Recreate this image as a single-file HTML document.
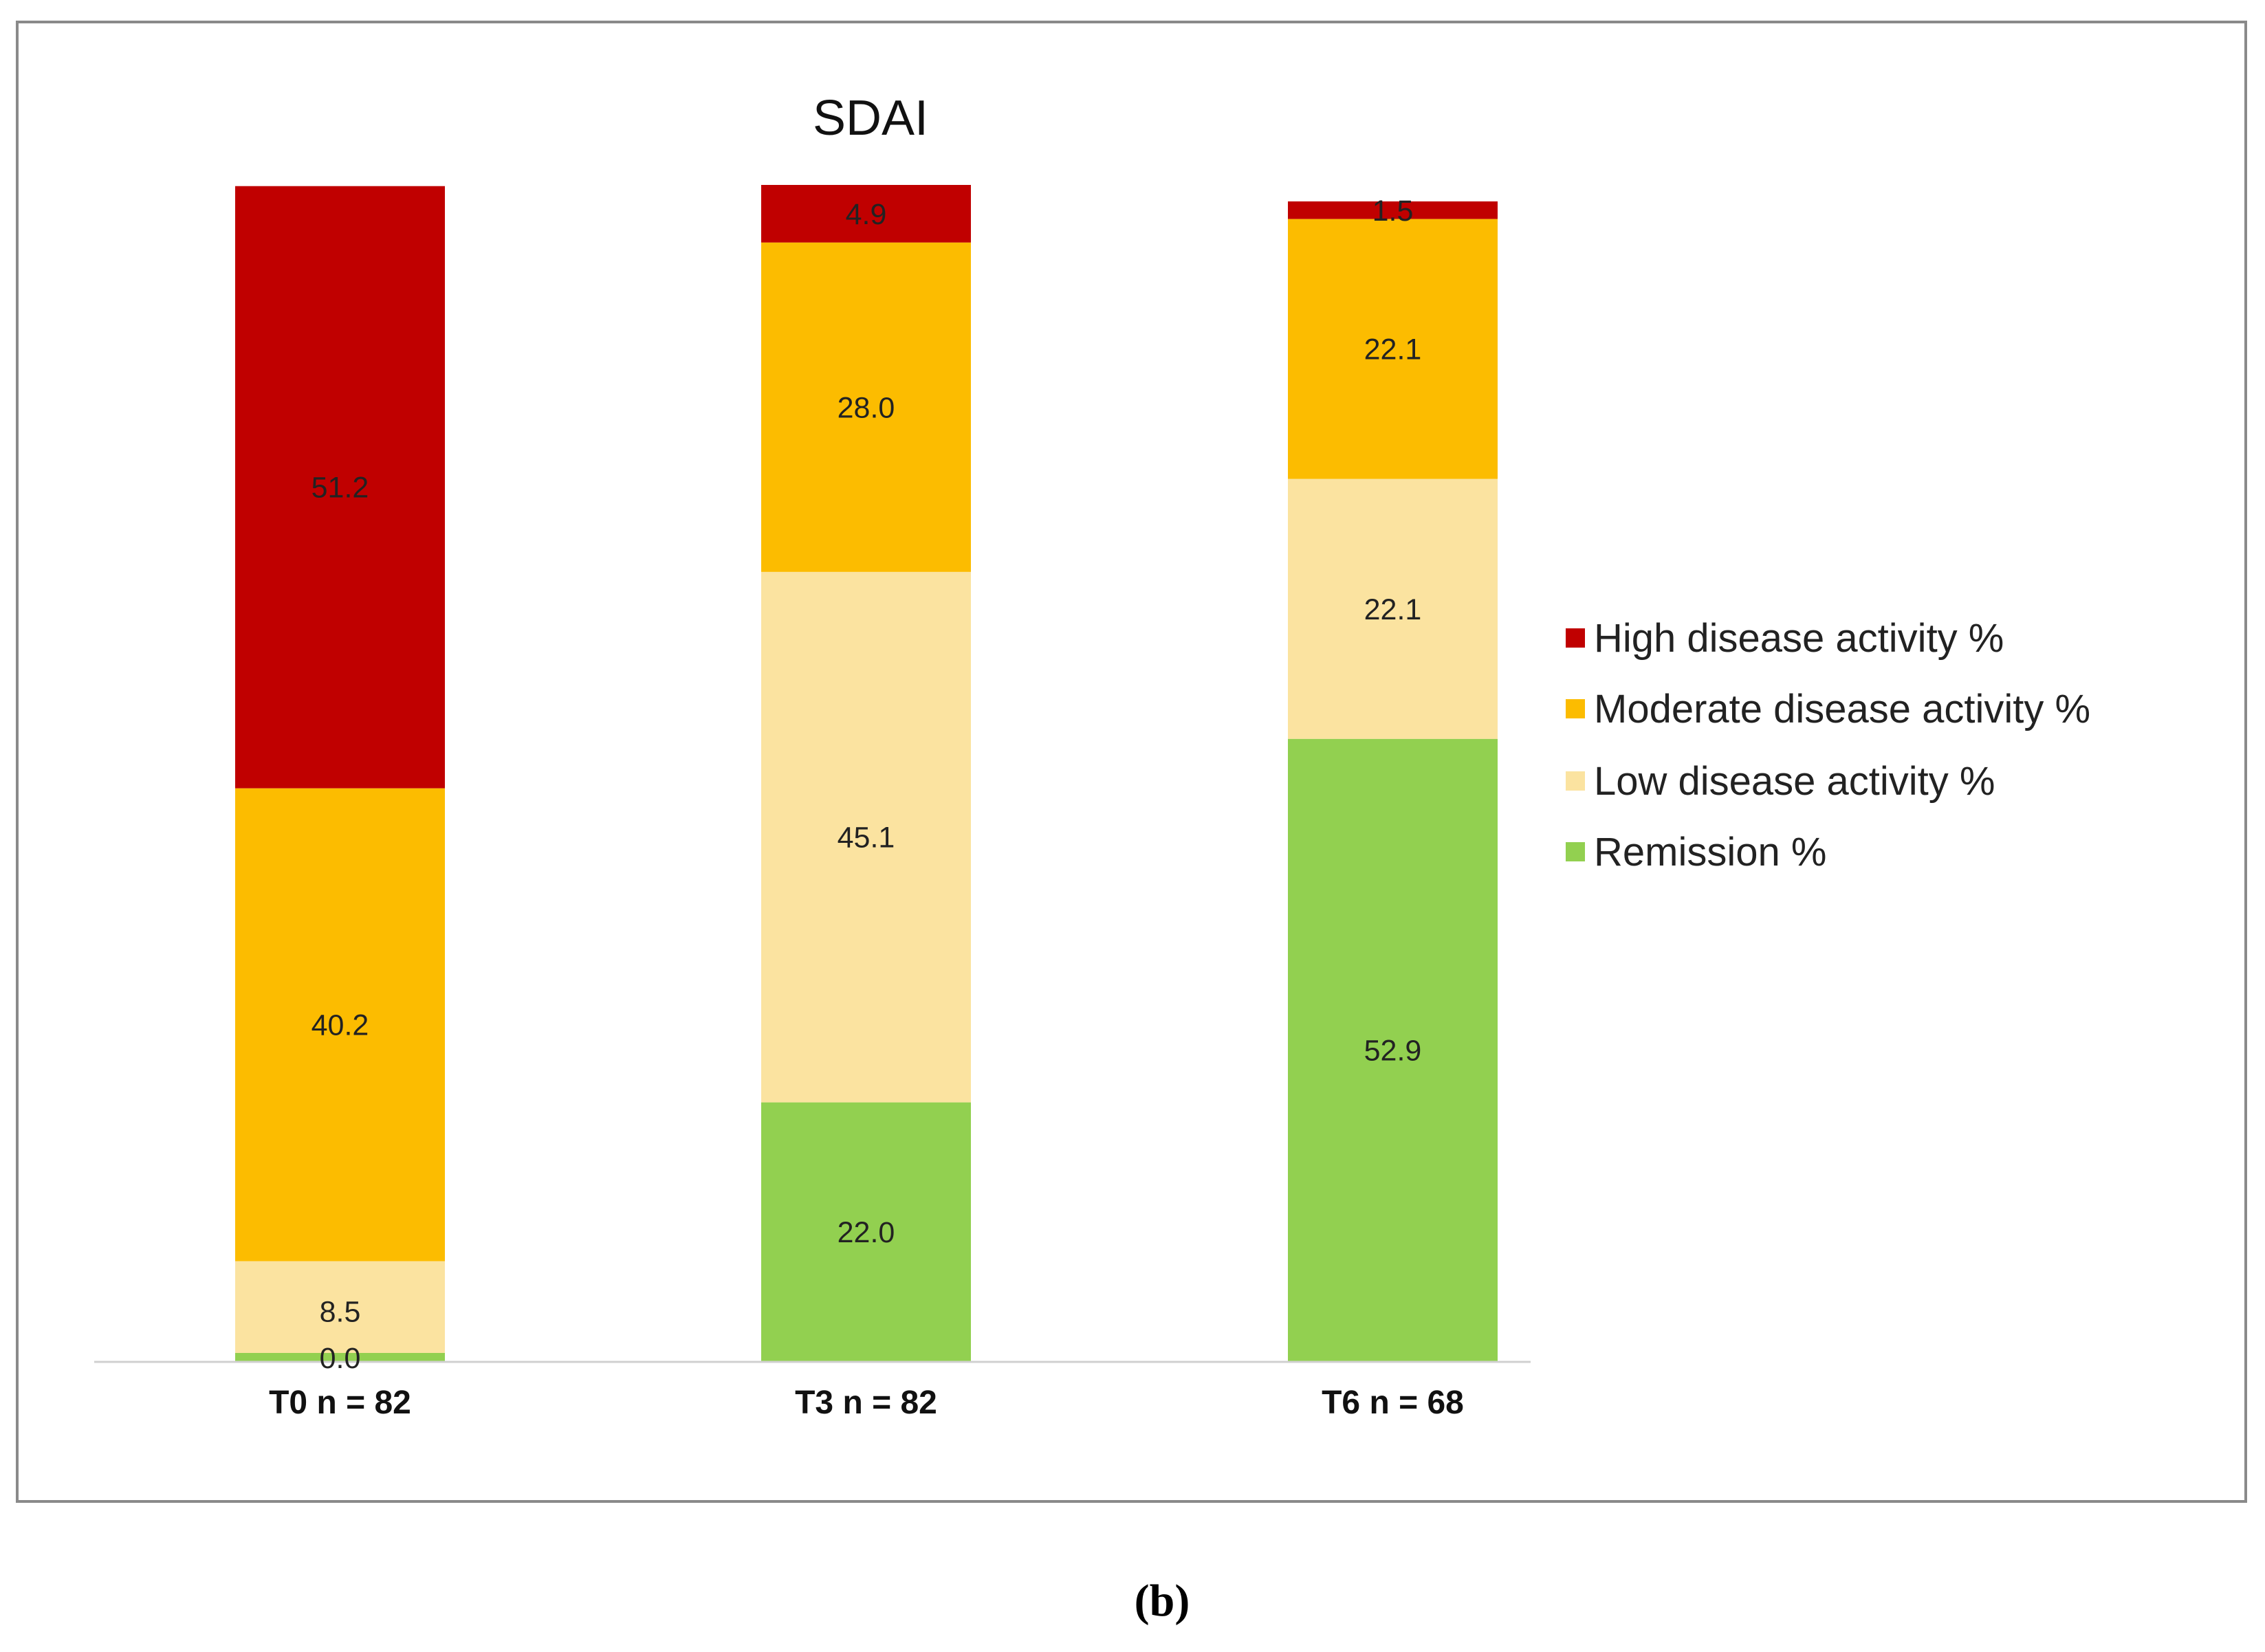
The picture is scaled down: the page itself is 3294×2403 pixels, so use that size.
<!DOCTYPE html>
<html><head><meta charset="utf-8"><style>
body{margin:0;background:#fff;}
svg text{font-family:"Liberation Sans",Arial,sans-serif;}
</style></head><body>
<svg width="3294" height="2398" viewBox="0 0 3294 2398" xmlns="http://www.w3.org/2000/svg">
<rect x="25" y="32" width="3241" height="2152" fill="#fff" stroke="#8a8a8a" stroke-width="4"/>
<text x="1266" y="196" font-size="72" text-anchor="middle" fill="#111">SDAI</text>
<g id="bars"></g>
<line x1="137" y1="1981" x2="2226" y2="1981" stroke="#d0d0d0" stroke-width="3"/>
<g id="vlabels"></g>
<g id="xlabels"></g>
<g id="legend"></g>
<text x="1690" y="2350" font-size="66" font-weight="bold" text-anchor="middle" style="font-family:'Liberation Serif',serif" fill="#000">(b)</text>
</svg>
<script>
const categories = ["T0 n = 82", "T3 n = 82", "T6 n = 68"];
const seriesNames = ["Remission %", "Low disease activity %", "Moderate disease activity %", "High disease activity %"];
const remission = [0.0, 22.0, 52.9];
const lowActivity = [8.5, 45.1, 22.1];
const moderateActivity = [40.2, 28.0, 22.1];
const highActivity = [51.2, 4.9, 1.5];
const colors = ["#92D050", "#FBE3A0", "#FCBC00", "#C00000"];
const series = [remission, lowActivity, moderateActivity, highActivity];
const NS = "http://www.w3.org/2000/svg";
const baseY = 1980, pxPer = 17.11;
const barX = [342, 1107, 1873], barW = 305;
function yScale(v){ return baseY - v*pxPer; }
const gb = document.getElementById('bars');
const gv = document.getElementById('vlabels');
categories.forEach((c,i)=>{
  let cum = 0;
  series.forEach((s,k)=>{
    const v = s[i];
    const y0 = yScale(cum), y1 = yScale(cum+v);
    let h = y0 - y1;
    const r = document.createElementNS(NS,'rect');
    r.setAttribute('x', barX[i]); r.setAttribute('width', barW);
    r.setAttribute('fill', colors[k]);
    
    
    if (v === 0) {
      r.setAttribute('y', y0 - 12); r.setAttribute('height', 12);
    } else {
      r.setAttribute('y', y1); r.setAttribute('height', h);
    }
    if (v === 0) gb.appendChild(r); else gb.insertBefore(r, gb.firstChild);
    const t = document.createElementNS(NS,'text');
    t.setAttribute('x', barX[i] + barW/2);
    t.setAttribute('y', v === 0 ? y0 + 10 : (y0 - h/2) + 15);
    t.setAttribute('font-size', '43'); t.setAttribute('text-anchor','middle'); t.setAttribute('fill','#222');
    t.textContent = v.toFixed(1);
    
    
    gv.appendChild(t);
    cum += v;
  });
  const xl = document.createElementNS(NS,'text');
  xl.setAttribute('x', barX[i] + barW/2); xl.setAttribute('y', 2056);
  xl.setAttribute('font-size','48'); xl.setAttribute('font-weight','bold'); xl.setAttribute('text-anchor','middle'); xl.setAttribute('fill','#111');
  xl.textContent = c;
  
  
  document.getElementById('xlabels').appendChild(xl);
});
const gl = document.getElementById('legend');
const legendY = [928, 1031, 1136, 1239];
for (let j=0;j<4;j++){
  const k = 3-j;
  const sq = document.createElementNS(NS,'rect');
  sq.setAttribute('x', 2277); sq.setAttribute('y', legendY[j]-14);
  sq.setAttribute('width', 28); sq.setAttribute('height', 28); sq.setAttribute('fill', colors[k]);
  
  
  gl.appendChild(sq);
  const t = document.createElementNS(NS,'text');
  t.setAttribute('x', 2318); t.setAttribute('y', legendY[j]+20);
  t.setAttribute('font-size','58'); t.setAttribute('fill','#222');
  t.textContent = seriesNames[k];
  
  
  gl.appendChild(t);
}
</script>
</body></html>
